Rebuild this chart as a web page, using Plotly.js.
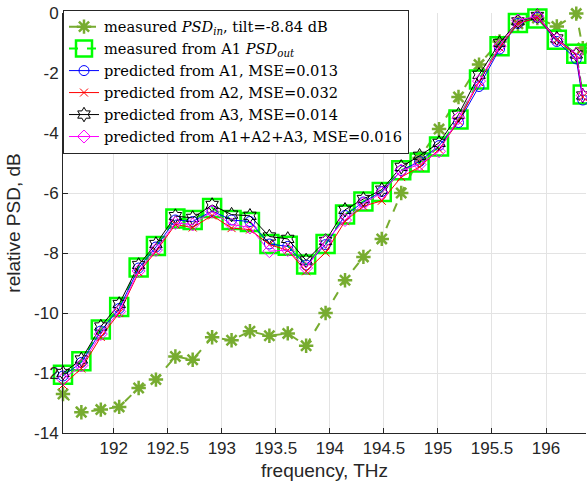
<!DOCTYPE html>
<html>
<head>
<meta charset="utf-8">
<script src="https://cdn.plot.ly/plotly-3.0.1.min.js"></script>
<style>html,body{margin:0;padding:0;background:#fff;}#chart{width:587px;height:487px;}</style>
</head>
<body>
<div id="chart"></div>
<script>
// frequency grid (THz)
const freq = [191.53, 191.70, 191.88, 192.05, 192.23, 192.39, 192.57, 192.73, 192.91, 193.09,
              193.26, 193.44, 193.61, 193.78, 193.96, 194.14, 194.31, 194.48, 194.66, 194.83,
              195.01, 195.19, 195.38, 195.57, 195.74, 195.92, 196.10, 196.28, 196.34];

// measured PSD_in (olive asterisks)
const psdIn = [-12.70, -13.31, -13.22, -13.13, -12.50, -12.22, -11.45, -11.56, -10.81, -10.91,
               -10.61, -10.76, -10.68, -11.09, -10.00, -8.91, -8.13, -7.53, -6.00, -4.83,
               -3.87, -2.80, -1.72, -0.95, -0.36, -0.17, -0.45, -0.02, -1.17];

// measured from A1 PSD_out (green squares)
const measA1 = [-12.06, -11.61, -10.55, -9.80, -8.48, -7.77, -6.85, -6.90, -6.50, -6.90,
                -6.97, -7.70, -7.76, -8.38, -7.70, -6.72, -6.28, -5.97, -5.24, -4.98,
                -4.45, -3.55, -2.22, -1.11, -0.33, -0.18, -0.89, -1.36, -2.72];

// predicted from A1 (blue circles)
const predA1 = [-12.10, -11.65, -10.60, -9.85, -8.50, -7.80, -6.90, -6.95, -6.60, -6.90,
                -6.95, -7.70, -7.78, -8.40, -7.72, -6.75, -6.30, -5.95, -5.25, -4.95,
                -4.42, -3.65, -2.45, -1.20, -0.35, -0.15, -0.95, -1.53, -2.90];

// predicted from A2 (red x)
const predA2 = [-12.40, -11.85, -10.80, -10.00, -8.65, -7.95, -7.05, -7.15, -6.75, -7.17,
                -7.22, -7.72, -7.91, -8.61, -7.98, -6.94, -6.44, -6.26, -5.47, -5.13,
                -4.55, -3.60, -2.30, -1.15, -0.35, -0.15, -0.90, -1.40, -2.80];

// predicted from A3 (black hexagrams)
const predA3 = [-12.00, -11.55, -10.45, -9.70, -8.40, -7.70, -6.77, -6.83, -6.40, -6.72,
                -6.76, -7.45, -7.53, -8.25, -7.60, -6.56, -6.20, -5.89, -5.13, -4.76,
                -4.33, -3.39, -2.06, -1.00, -0.28, -0.10, -0.85, -1.38, -2.75];

// predicted from A1+A2+A3 (magenta diamonds)
const predAll = [-12.20, -11.75, -10.70, -9.95, -8.60, -7.90, -7.00, -7.05, -6.62, -7.05,
                 -7.15, -7.94, -7.90, -8.50, -7.60, -6.90, -6.35, -6.00, -5.25, -5.05,
                 -4.61, -3.50, -2.27, -1.10, -0.25, -0.10, -0.88, -1.36, -2.75];

const xTicks = [192, 192.5, 193, 193.5, 194, 194.5, 195, 195.5, 196];
const xTickText = ['192', '192.5', '193', '193.5', '194', '194.5', '195', '195.5', '196'];
const yTicks = [-14, -12, -10, -8, -6, -4, -2, 0];
const yTickText = ['-14', '-12', '-10', '-8', '-6', '-4', '-2', '0'];

const names = [
  'measured <i>PSD</i><sub><i>in</i></sub>, tilt=-8.84 dB',
  'measured from A1 <i>PSD</i><sub><i>out</i></sub>',
  'predicted from A1, MSE=0.013',
  'predicted from A2, MSE=0.032',
  'predicted from A3, MSE=0.014',
  'predicted from A1+A2+A3, MSE=0.016'
];

const traces = [
  {x: freq, y: psdIn, name: names[0], mode: 'lines+markers', cliponaxis: false,
   line: {color: '#77AC30', width: 2, dash: 'dash'},
   marker: {symbol: 'asterisk-open', size: 12, color: '#77AC30', line: {color: '#77AC30', width: 2.5}}},
  {x: freq, y: measA1, name: names[1], mode: 'lines+markers', cliponaxis: false,
   line: {color: '#00FF00', width: 2, dash: 'dash'},
   marker: {symbol: 'square-open', size: 18, color: '#00FF00', line: {color: '#00FF00', width: 2.5}}},
  {x: freq, y: predA1, name: names[2], mode: 'lines+markers', cliponaxis: false,
   line: {color: '#0000FF', width: 1},
   marker: {symbol: 'circle-open', size: 10, color: '#0000FF', line: {color: '#0000FF', width: 1}}},
  {x: freq, y: predA2, name: names[3], mode: 'lines+markers', cliponaxis: false,
   line: {color: '#FF0000', width: 1},
   marker: {symbol: 'x-thin-open', size: 8, color: '#FF0000', line: {color: '#FF0000', width: 1}}},
  {x: freq, y: predA3, name: names[4], mode: 'lines+markers', cliponaxis: false,
   line: {color: '#000000', width: 1},
   marker: {symbol: 'hexagram-open', size: 11, color: '#000000', line: {color: '#000000', width: 1}}},
  {x: freq, y: predAll, name: names[5], mode: 'lines+markers', cliponaxis: false,
   line: {color: '#FF00FF', width: 1},
   marker: {symbol: 'diamond-open', size: 10, color: '#FF00FF', line: {color: '#FF00FF', width: 1}}}
];

const axisCommon = {
  showgrid: true, gridcolor: '#e3e3e3', gridwidth: 1,
  showline: true, linecolor: '#262626', linewidth: 1,
  ticks: 'inside', ticklen: 5, tickwidth: 1, tickcolor: '#262626',
  zeroline: false,
  tickfont: {family: 'Liberation Sans, Arial, sans-serif', size: 17, color: '#262626'}
};

const layout = {
  width: 587, height: 487,
  margin: {l: 63, r: 1, t: 13, b: 54, pad: 0},
  paper_bgcolor: '#ffffff', plot_bgcolor: '#ffffff',
  showlegend: true,
  xaxis: Object.assign({}, axisCommon, {
    range: [191.53, 196.37], tickmode: 'array', tickvals: xTicks, ticktext: xTickText,
    title: {text: 'frequency, THz', standoff: 6,
            font: {family: 'Liberation Sans, Arial, sans-serif', size: 19, color: '#262626'}}
  }),
  yaxis: Object.assign({}, axisCommon, {
    range: [-14, 0], tickmode: 'array', tickvals: yTicks, ticktext: yTickText,
    title: {text: 'relative PSD, dB', standoff: 8,
            font: {family: 'Liberation Sans, Arial, sans-serif', size: 19, color: '#262626'}}
  }),
  legend: {
    x: 0, y: 1.008, xanchor: 'left', yanchor: 'top',
    bgcolor: '#ffffff', bordercolor: '#262626', borderwidth: 1,
    font: {family: 'DejaVu Serif, serif', size: 14.6, color: '#000000'},
    tracegroupgap: 0, itemwidth: 30
  }
};

Plotly.newPlot('chart', traces, layout, {displayModeBar: false, staticPlot: true});
</script>
</body>
</html>
